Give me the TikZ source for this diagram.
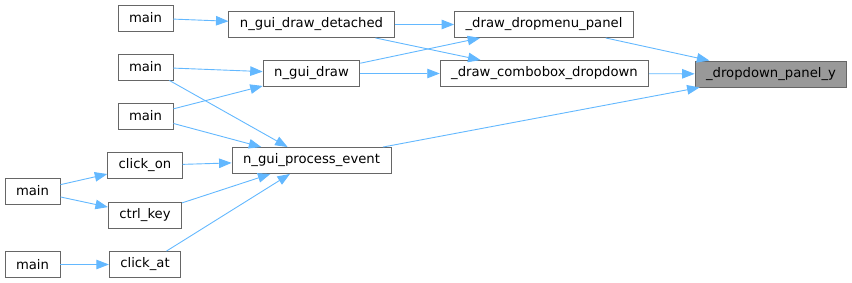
\documentclass[tikz,border=0pt]{standalone}
\usepackage{fontspec}
\setmainfont{DejaVu Sans}
\usetikzlibrary{arrows.meta,positioning}
\definecolor{edgeblue}{HTML}{63B8FF}
\definecolor{boxgray}{HTML}{666666}
\definecolor{focusgray}{HTML}{999999}
\begin{document}
\begin{tikzpicture}[
    x=1pt, y=-1pt,
    fn/.style={rectangle, draw=boxgray, fill=white, line width=0.9pt, inner xsep=11pt, inner ysep=0pt, minimum height=26pt, font=\fontsize{13.2}{15}\selectfont},
    target/.style={fn, fill=focusgray},
    arrow/.style={-{Triangle[length=12.5pt, width=9.5pt]}, draw=edgeblue, line width=0.9pt}
]
    \useasboundingbox (0,0) rectangle (852,283);

    % Callee on the right
    \node[target] (panely) at (771,74) {\_dropdown\_panel\_y};

    % Direct callers
    \node[fn] (dropmenu) at (544,24.5) {\_draw\_dropmenu\_panel};
    \node[fn] (combobox) at (544.5,73.5) {\_draw\_combobox\_dropdown};

    % GUI functions
    \node[fn] (detached) at (311.5,24.5) {n\_gui\_draw\_detached};
    \node[fn] (guidraw) at (311.5,73.5) {n\_gui\_draw};
    \node[fn] (procev) at (311.5,160.5) {n\_gui\_process\_event};

    % Helpers
    \node[fn] (clickon) at (145,165.5) {click\_on};
    \node[fn] (ctrlkey) at (145,215) {ctrl\_key};
    \node[fn] (clickat) at (145,264.5) {click\_at};

    % Mains
    \node[fn] (main1) at (145.5,18) {main};
    \node[fn] (main2) at (145.5,67) {main};
    \node[fn] (main3) at (145.5,116) {main};
    \node[fn] (main4) at (32.5,191) {main};
    \node[fn] (main5) at (32.5,264.5) {main};

    % Connections
    \draw[arrow] (dropmenu) -- (panely);
    \draw[arrow] (combobox) -- (panely);
    \draw[arrow] (procev) -- (panely);
    \draw[arrow] (detached) -- (dropmenu);
    \draw[arrow] (detached) -- (combobox);
    \draw[arrow] (guidraw) -- (dropmenu);
    \draw[arrow] (guidraw) -- (combobox);
    \draw[arrow] (main1) -- (detached);
    \draw[arrow] (main2) -- (guidraw);
    \draw[arrow] (main3) -- (guidraw);
    \draw[arrow] (main2) -- (procev);
    \draw[arrow] (main3) -- (procev);
    \draw[arrow] (clickon) -- (procev);
    \draw[arrow] (ctrlkey) -- (procev);
    \draw[arrow] (clickat) -- (procev);
    \draw[arrow] (main4) -- (clickon);
    \draw[arrow] (main4) -- (ctrlkey);
    \draw[arrow] (main5) -- (clickat);
\end{tikzpicture}
\end{document}
